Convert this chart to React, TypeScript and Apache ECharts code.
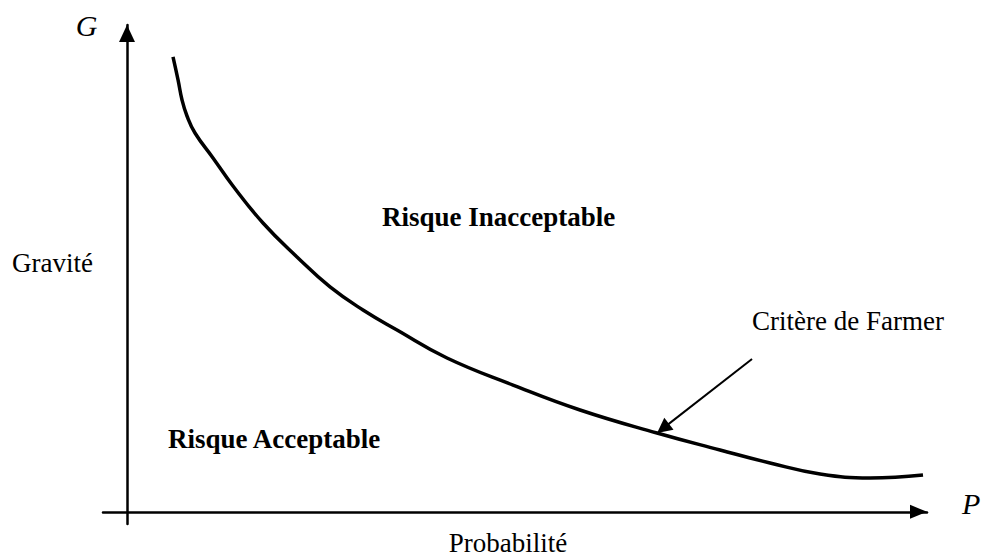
import React, { useEffect, useRef } from "react";
import * as echarts from "echarts";

// Farmer criterion curve: probability (x) vs gravity (y), arbitrary units
const probability = [
  5.75, 6.38, 6.88, 7.5, 8.5, 10.75, 13.25, 17.0, 21.25, 25.38, 29.5, 33.75,
  40.0, 48.25, 56.63, 66.25, 74.13, 80.38, 86.63, 92.88, 99.5,
];
const gravity = [
  93.43, 88.71, 84.6, 81.31, 77.82, 72.69, 66.93, 59.33, 52.35, 46.19, 41.46,
  37.35, 31.6, 26.05, 20.92, 16.19, 12.7, 10.03, 7.77, 6.95, 7.57,
];

// annotation arrow pointing at the curve: [start, end] in data units
const arrowStart = [78.13, 31.4];
const arrowEnd = [67.0, 17.14];

const axisRangeX = [-3, 100];
const axisRangeY = [-2.5, 100];

const labels = {
  g: "G",
  p: "P",
  gravity: "Gravité",
  probability: "Probabilité",
  unacceptable: "Risque Inacceptable",
  acceptable: "Risque Acceptable",
  farmer: "Critère de Farmer",
};

const SERIF = "Liberation Serif";

export default function App() {
  const ref = useRef<HTMLDivElement | null>(null);

  useEffect(() => {
    if (!ref.current) return;
    const chart = echarts.init(ref.current, null, { renderer: "svg" });
    const curve = probability.map((x, i) => [x, gravity[i]]);

    const txt = (
      text: string,
      x: number,
      y: number,
      size: number,
      weight: string,
      fstyle: string,
      align: string = "left"
    ) => ({
      type: "text",
      x,
      y,
      silent: true,
      style: {
        text,
        fontFamily: SERIF,
        fontSize: size,
        fontWeight: weight,
        fontStyle: fstyle,
        fill: "#000",
        textAlign: align,
        textVerticalAlign: "middle",
      },
    });

    chart.setOption({
      animation: false,
      backgroundColor: "#fff",
      grid: { left: 103, right: 54, top: 25, bottom: 33, containLabel: false },
      xAxis: {
        type: "value",
        min: axisRangeX[0],
        max: axisRangeX[1],
        axisLine: {
          onZero: true,
          symbol: ["none", "triangle"],
          symbolSize: [14, 17],
          symbolOffset: [0, -8.5],
          lineStyle: { color: "#000", width: 2.5 },
        },
        axisTick: { show: false },
        axisLabel: { show: false },
        splitLine: { show: false },
      },
      yAxis: {
        type: "value",
        min: axisRangeY[0],
        max: axisRangeY[1],
        axisLine: {
          onZero: true,
          symbol: ["none", "triangle"],
          symbolSize: [16, 17],
          symbolOffset: [0, -8.5],
          lineStyle: { color: "#000", width: 2.5 },
        },
        axisTick: { show: false },
        axisLabel: { show: false },
        splitLine: { show: false },
      },
      series: [
        {
          type: "line",
          data: curve,
          smooth: 0.45,
          showSymbol: false,
          silent: true,
          lineStyle: { color: "#000", width: 3.5 },
          markLine: {
            silent: true,
            symbol: ["none", "triangle"],
            symbolSize: 15,
            label: { show: false },
            lineStyle: { color: "#000", width: 2, type: "solid" },
            itemStyle: { color: "#000" },
            emphasis: { disabled: true },
            data: [[{ coord: arrowStart }, { coord: arrowEnd }]],
          },
        },
      ],
      graphic: [
        txt(labels.g, 86.5, 25.5, 30, "normal", "italic", "center"),
        txt(labels.p, 962, 503, 30, "normal", "italic", "left"),
        txt(labels.gravity, 12, 262.5, 27, "normal", "normal", "left"),
        txt(labels.probability, 508, 543, 27, "normal", "normal", "center"),
        txt(labels.unacceptable, 382, 216.5, 27, "bold", "normal", "left"),
        txt(labels.acceptable, 168, 439, 27, "bold", "normal", "left"),
        txt(labels.farmer, 752, 321, 27, "normal", "normal", "left"),
      ],
    });

    return () => chart.dispose();
  }, []);

  return (
    <div
      ref={ref}
      style={{ position: "fixed", left: 0, top: 0, width: 981, height: 557 }}
    />
  );
}
